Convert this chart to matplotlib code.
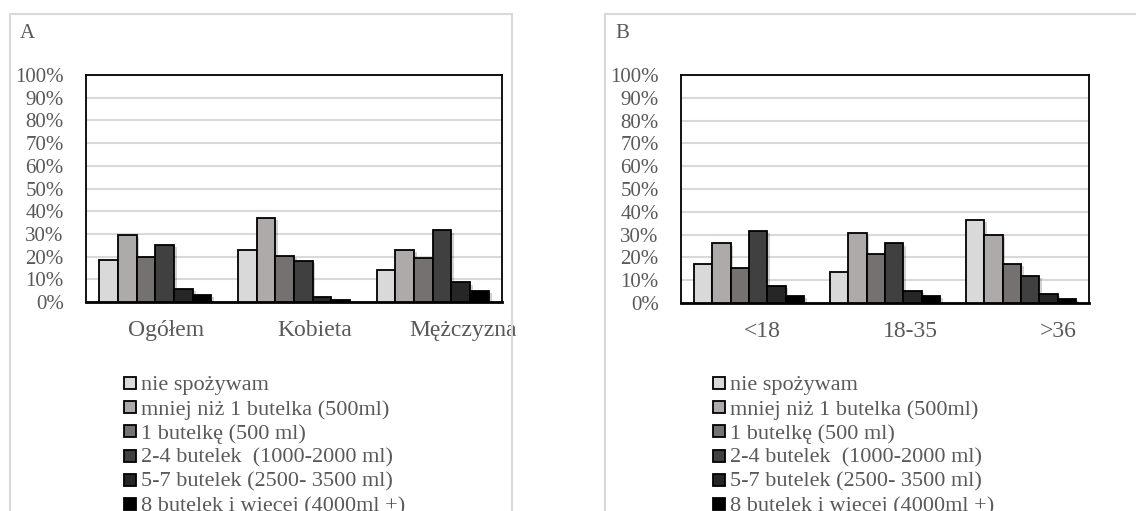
import matplotlib
matplotlib.use("Agg")
import matplotlib.pyplot as plt
import numpy as np
from matplotlib.patches import Rectangle
import matplotlib.patheffects as pe

# ---------------- data ----------------
series_labels = [
    "nie spożywam",
    "mniej niż 1 butelka (500ml)",
    "1 butelkę (500 ml)",
    "2-4 butelek  (1000-2000 ml)",
    "5-7 butelek (2500- 3500 ml)",
    "8 butelek i wiecej (4000ml +)",
]
categories_A = ["Ogółem", "Kobieta", "Mężczyzna"]
categories_B = ["<18", "18-35", ">36"]

# values in % ; rows = series, columns = categories
values_A = [
    [18.3, 23.1, 14.2],
    [29.4, 37.0, 23.1],
    [19.8, 20.2, 19.2],
    [25.3, 18.0, 31.5],
    [5.6, 2.0, 8.6],
    [3.1, 0.9, 4.8],
]
values_B = [
    [17.1, 13.4, 36.4],
    [26.1, 30.5, 30.0],
    [15.3, 21.7, 17.1],
    [31.6, 26.1, 11.8],
    [7.3, 5.1, 4.1],
    [2.9, 3.2, 1.6],
]
yticks = list(range(0, 101, 10))
ytick_labels = [f"{v}%" for v in yticks]

# ---------------- style ----------------
colors = ["#d9d9d9", "#aeaaaa", "#767171", "#404040", "#262626", "#000000"]
text_color = "#595959"
grid_color = "#d9d9d9"
plt.rcParams["font.family"] = ["Liberation Serif", "DejaVu Serif"]

W, H = 1136, 511
fig = plt.figure(figsize=(W / 100, H / 100), dpi=100)
fig.patch.set_facecolor("white")


def fx(px):
    return px / W


def fy(py):
    return 1 - py / H


def panel(letter, cats, vals, ax_rect_px, label_shift, frame_px, legend_px):
    x0, y0, x1, y1 = ax_rect_px
    ax = fig.add_axes([fx(x0), fy(y1), fx(x1 - x0), (y1 - y0) / H])
    n = len(vals)
    group = 0.81
    w = group / n
    x = np.arange(len(cats))
    for i, (row, c) in enumerate(zip(vals, colors)):
        bars = ax.bar(x - group / 2 + w * (i + 0.5), row, width=w, color=c,
                      edgecolor="black", linewidth=1.3, zorder=3)
        for b in bars:
            b.set_path_effects([pe.SimplePatchShadow(offset=(2.0, -1.5), alpha=0.18,
                                                     shadow_rgbFace="#000000"),
                                pe.Normal()])
    ax.set_xlim(-0.5, len(cats) - 0.5)
    ax.set_ylim(0, 100)
    ax.set_yticks(yticks)
    ax.set_yticklabels(ytick_labels)
    ax.set_xticks(x + np.array(label_shift))
    ax.set_xticklabels(cats)
    ax.tick_params(axis="y", length=0, pad=16, labelsize=15, labelcolor=text_color)
    ax.tick_params(axis="x", length=0, pad=13, labelsize=17, labelcolor=text_color)
    ax.grid(axis="y", color=grid_color, linewidth=1.5, zorder=0)
    ax.set_axisbelow(True)
    for s in ax.spines.values():
        s.set_color("black")
        s.set_linewidth(1.3)
    ax.spines["bottom"].set_linewidth(2.0)

    # outer panel frame
    fl, ft, fr = frame_px
    fig.patches.append(Rectangle((fx(fl), -0.1), fx(fr - fl), fy(ft) + 0.1,
                                 transform=fig.transFigure, fill=False,
                                 edgecolor="#d9d9d9", linewidth=1.5))
    fig.text(fx(fl + 10), fy(33), letter, fontsize=15, color=text_color,
             ha="left", va="center")

    # legend (manual, to match row spacing)
    lx, ly, dy = legend_px
    for i, (lab, c) in enumerate(zip(series_labels, colors)):
        yc = ly + i * dy
        fig.patches.append(Rectangle((fx(lx), fy(yc + 6)), fx(12), 12 / H,
                                     transform=fig.transFigure, facecolor=c,
                                     edgecolor="black", linewidth=1.3))
        fig.text(fx(lx + 17), fy(yc), lab, fontsize=16, color=text_color,
                 ha="left", va="center_baseline")
    return ax


panel("A", categories_A, values_A, (86, 75, 502, 302), [0.08, 0.15, 0.22],
      (10, 14, 512), (124, 383, 24.2))
panel("B", categories_B, values_B, (681, 75, 1089, 303), [0.10, 0.19, 0.27],
      (605, 14, 1150), (713, 383, 24.2))

fig.savefig("out.png", dpi=100)
